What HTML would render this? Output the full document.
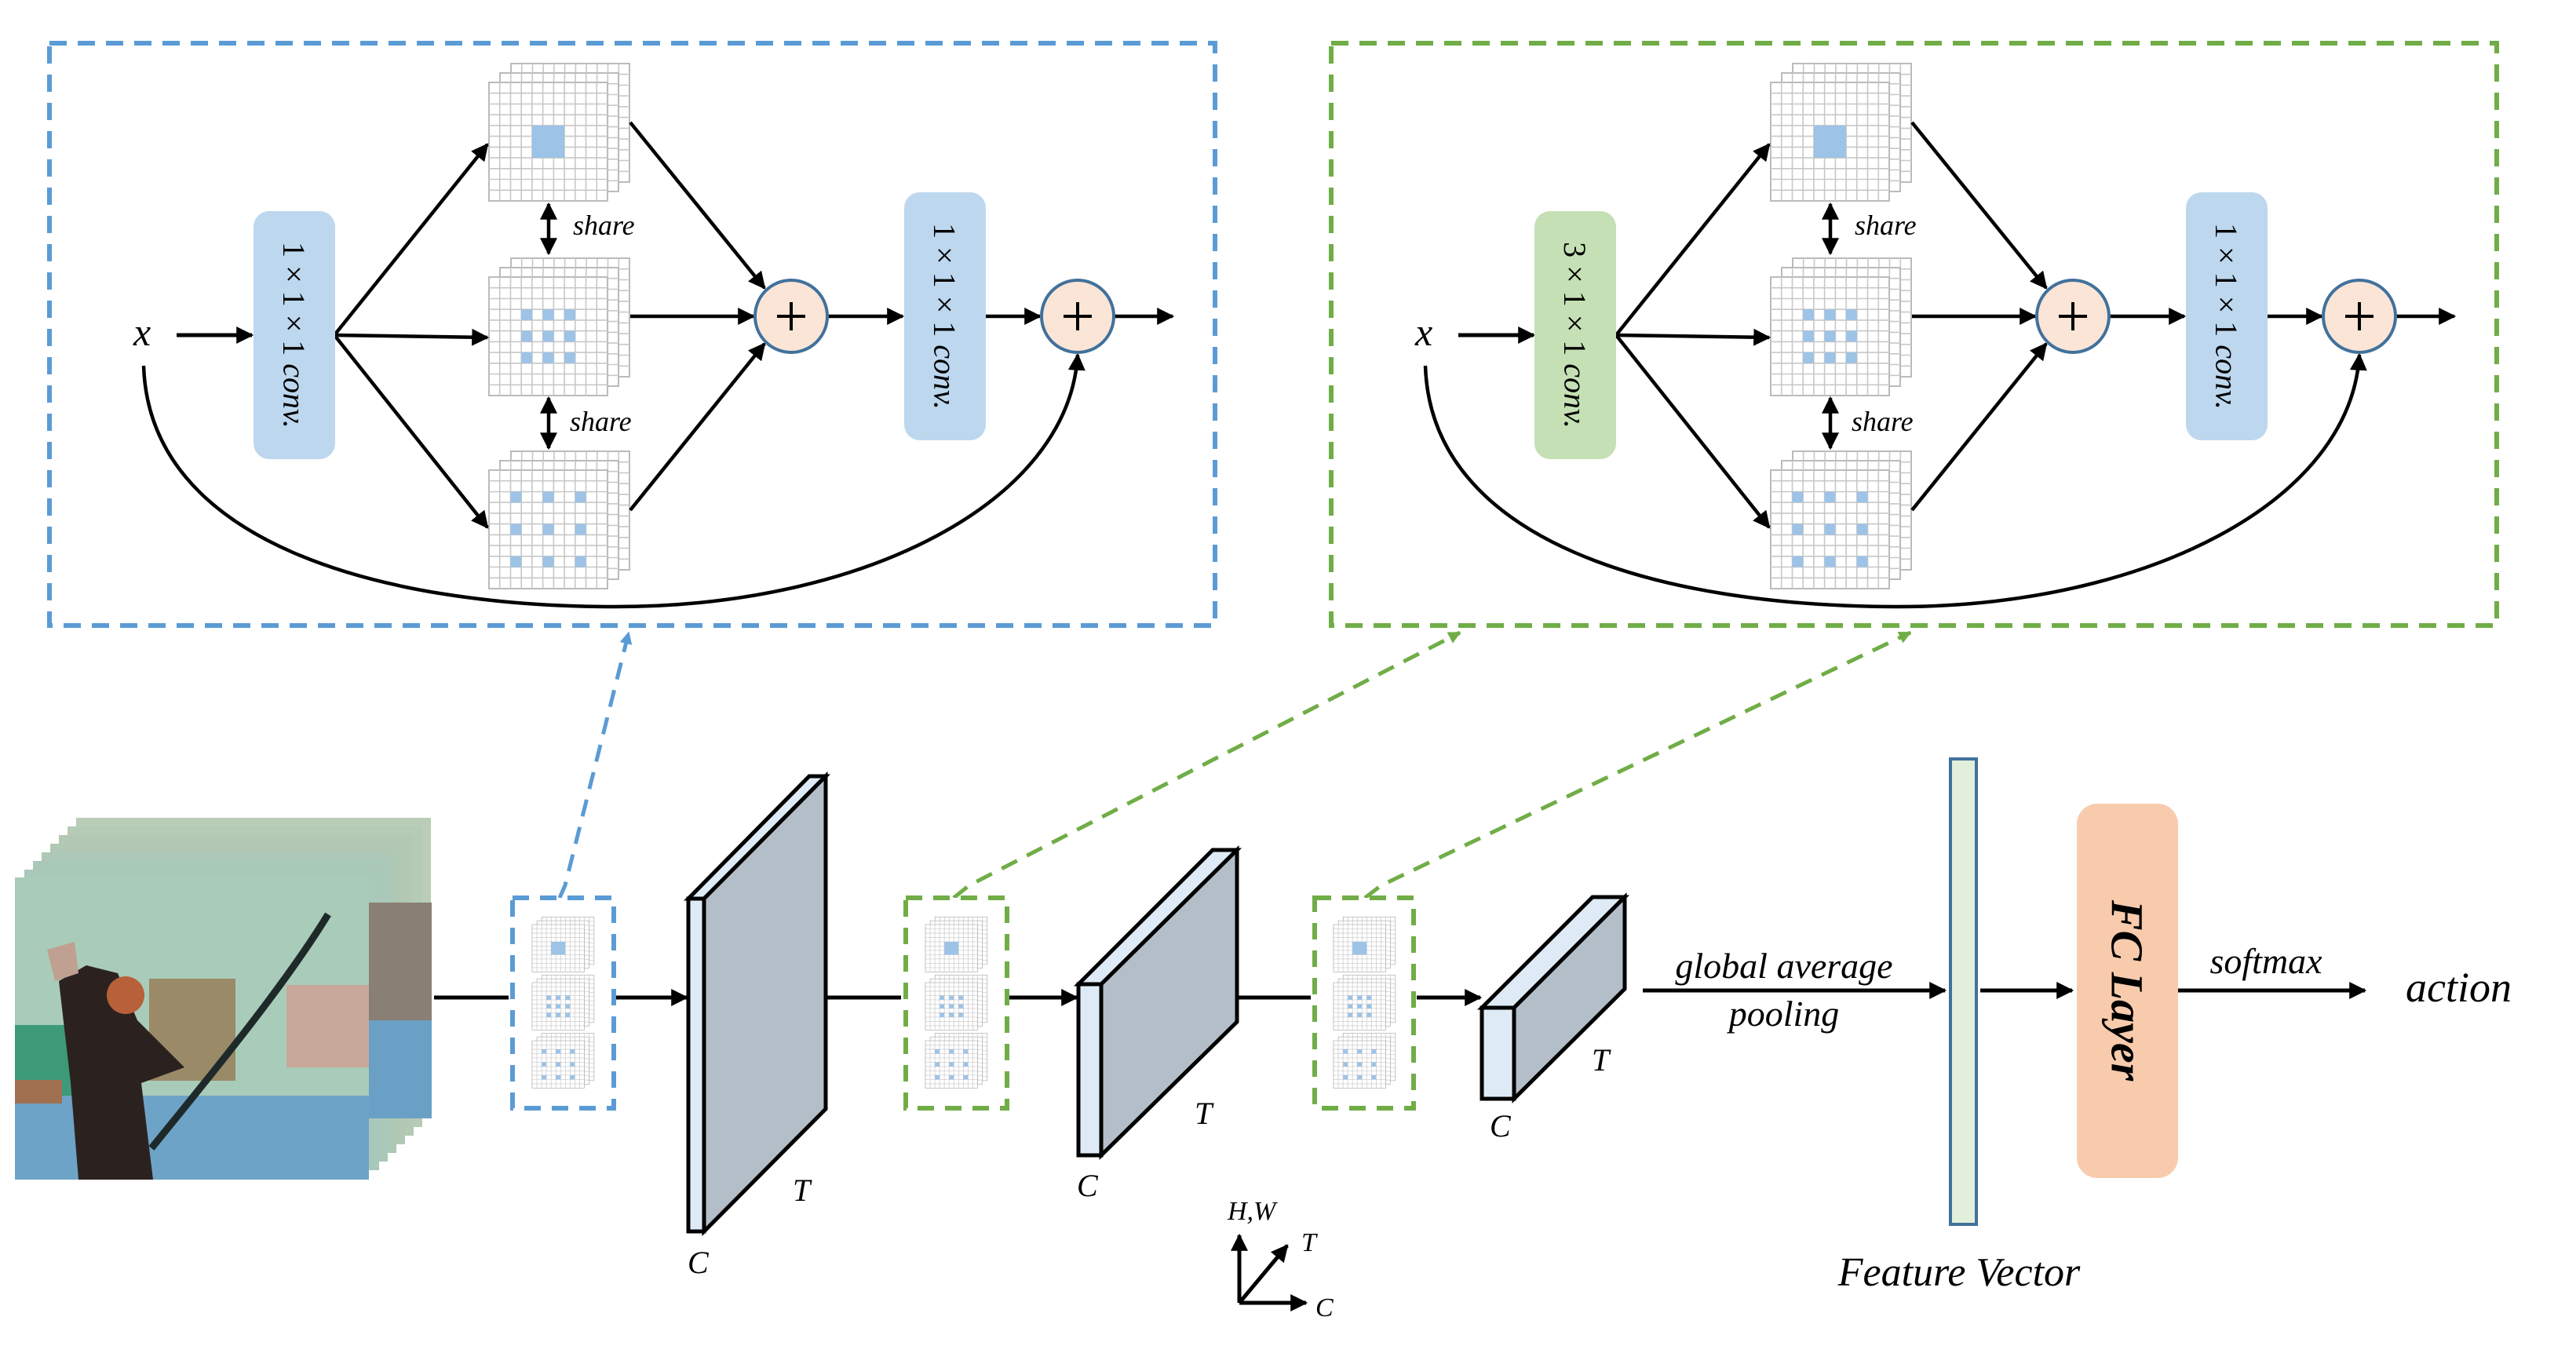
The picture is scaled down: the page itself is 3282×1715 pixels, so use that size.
<!DOCTYPE html>
<html><head><meta charset="utf-8"><style>
html,body{margin:0;padding:0;background:#fff}
svg{display:block}
text{font-family:"Liberation Serif",serif;font-style:italic;fill:#000}
</style></head><body>
<svg width="3282" height="1715" viewBox="0 0 3282 1715" xmlns="http://www.w3.org/2000/svg">
<defs>
<marker id="ah" viewBox="0 0 10 10" refX="9" refY="5" markerWidth="22" markerHeight="22" markerUnits="userSpaceOnUse" orient="auto-start-reverse"><path d="M0,0 L10,5 L0,10 z" fill="#000"/></marker>
<marker id="ahb" viewBox="0 0 10 10" refX="9" refY="5" markerWidth="16" markerHeight="16" markerUnits="userSpaceOnUse" orient="auto"><path d="M0,0 L10,5 L0,10 z" fill="#5b9bd5"/></marker>
<marker id="ahg" viewBox="0 0 10 10" refX="9" refY="5" markerWidth="16" markerHeight="16" markerUnits="userSpaceOnUse" orient="auto"><path d="M0,0 L10,5 L0,10 z" fill="#70ad47"/></marker>
<g id="grid">
<rect x="0" y="0" width="151" height="151" fill="#fff" stroke="#bbb" stroke-width="2"/>
<path d="M13.7,0V151M27.5,0V151M41.2,0V151M54.9,0V151M68.6,0V151M82.4,0V151M96.1,0V151M109.8,0V151M123.5,0V151M137.3,0V151M0,13.7H151M0,27.5H151M0,41.2H151M0,54.9H151M0,68.6H151M0,82.4H151M0,96.1H151M0,109.8H151M0,123.5H151M0,137.3H151" stroke="#c8c8c8" stroke-width="1.6" fill="none"/>
</g>
<g id="stack">
<use href="#grid" x="28" y="-24"/>
<use href="#grid" x="14" y="-12"/>
<use href="#grid" x="0" y="0"/>
</g>
<g id="s1"><use href="#stack"/><rect x="55" y="55" width="41" height="41" fill="#9dc3e6"/></g>
<g id="s2"><use href="#stack"/>
<g fill="#9dc3e6"><rect x="41.2" y="41.2" width="13.7" height="13.7"/><rect x="68.6" y="41.2" width="13.7" height="13.7"/><rect x="96.1" y="41.2" width="13.7" height="13.7"/>
<rect x="41.2" y="68.6" width="13.7" height="13.7"/><rect x="68.6" y="68.6" width="13.7" height="13.7"/><rect x="96.1" y="68.6" width="13.7" height="13.7"/>
<rect x="41.2" y="96.1" width="13.7" height="13.7"/><rect x="68.6" y="96.1" width="13.7" height="13.7"/><rect x="96.1" y="96.1" width="13.7" height="13.7"/></g></g>
<g id="s3"><use href="#stack"/>
<g fill="#9dc3e6"><rect x="27.5" y="27.5" width="13.7" height="13.7"/><rect x="68.6" y="27.5" width="13.7" height="13.7"/><rect x="109.8" y="27.5" width="13.7" height="13.7"/>
<rect x="27.5" y="68.6" width="13.7" height="13.7"/><rect x="68.6" y="68.6" width="13.7" height="13.7"/><rect x="109.8" y="68.6" width="13.7" height="13.7"/>
<rect x="27.5" y="109.8" width="13.7" height="13.7"/><rect x="68.6" y="109.8" width="13.7" height="13.7"/><rect x="109.8" y="109.8" width="13.7" height="13.7"/></g></g>
<g id="mod">
<text x="170" y="440" font-size="50">x</text>
<line x1="225" y1="427" x2="321" y2="427" stroke="#000" stroke-width="5" marker-end="url(#ah)"/>
<use href="#s1" x="623" y="105"/>
<use href="#s2" x="623" y="353"/>
<use href="#s3" x="623" y="599"/>
<g stroke="#000" stroke-width="4.5" fill="none">
<line x1="426" y1="427" x2="621" y2="184" marker-end="url(#ah)"/>
<line x1="426" y1="427" x2="621" y2="430" marker-end="url(#ah)"/>
<line x1="426" y1="427" x2="621" y2="672" marker-end="url(#ah)"/>
<line x1="803" y1="156" x2="974" y2="367" marker-end="url(#ah)"/>
<line x1="803" y1="403" x2="960" y2="403" marker-end="url(#ah)"/>
<line x1="803" y1="650" x2="974" y2="438" marker-end="url(#ah)"/>
<line x1="1055" y1="403" x2="1150" y2="403" marker-end="url(#ah)"/>
<line x1="1254" y1="403" x2="1325" y2="403" marker-end="url(#ah)"/>
<line x1="1420" y1="403" x2="1494" y2="403" marker-end="url(#ah)"/>
<line x1="699" y1="260" x2="699" y2="323" marker-start="url(#ah)" marker-end="url(#ah)"/>
<line x1="699" y1="507" x2="699" y2="571" marker-start="url(#ah)" marker-end="url(#ah)"/>
<path d="M183,466 C190,690 480,773 785,773 C1100,773 1362,640 1373,452" marker-end="url(#ah)"/>
</g>
<text x="730" y="299" font-size="36">share</text>
<text x="726" y="549" font-size="36">share</text>
<circle cx="1008" cy="403" r="46" fill="#fbe5d6" stroke="#41719c" stroke-width="4"/>
<path d="M990,403H1026M1008,385V421" stroke="#000" stroke-width="4"/>
<circle cx="1373" cy="403" r="46" fill="#fbe5d6" stroke="#41719c" stroke-width="4"/>
<path d="M1355,403H1391M1373,385V421" stroke="#000" stroke-width="4"/>
<rect x="1152" y="245" width="104" height="316" rx="20" fill="#bdd7ee"/>
<text transform="translate(1204,403) rotate(90)" text-anchor="middle" dominant-baseline="central" font-size="40"><tspan font-style="normal">1 × 1 × 1</tspan>  conv.</text>
</g>
</defs>

<rect x="63" y="55" width="1485" height="742" fill="none" stroke="#5b9bd5" stroke-width="6" stroke-dasharray="22,14"/>
<use href="#mod"/>
<rect x="323" y="269" width="104" height="316" rx="20" fill="#bdd7ee"/>
<text transform="translate(375,427) rotate(90)" text-anchor="middle" dominant-baseline="central" font-size="40"><tspan font-style="normal">1 × 1 × 1</tspan>  conv.</text>

<rect x="1696" y="55" width="1485" height="742" fill="none" stroke="#70ad47" stroke-width="6" stroke-dasharray="22,14"/>
<use href="#mod" x="1633"/>
<rect x="1955" y="269" width="104" height="316" rx="20" fill="#c5e0b4"/>
<text transform="translate(2007,427) rotate(90)" text-anchor="middle" dominant-baseline="central" font-size="40"><tspan font-style="normal">3 × 1 × 1</tspan>  conv.</text>

<path d="M713,1144 L720,1128 L801,806" fill="none" stroke="#5b9bd5" stroke-width="5" stroke-dasharray="22,14" marker-end="url(#ahb)"/>
<path d="M1215,1144 L1235,1128 L1860,806" fill="none" stroke="#70ad47" stroke-width="5" stroke-dasharray="22,14" marker-end="url(#ahg)"/>
<path d="M1739,1144 L1760,1128 L2434,806" fill="none" stroke="#70ad47" stroke-width="5" stroke-dasharray="22,14" marker-end="url(#ahg)"/>

<g>
<rect x="97" y="1042" width="452" height="383" fill="#b9cdb7"/>
<rect x="86" y="1053" width="452" height="383" fill="#b6cbb5"/>
<rect x="75" y="1064" width="452" height="383" fill="#b3c9b4"/>
<rect x="64" y="1075" width="452" height="383" fill="#b0c8b4"/>
<rect x="53" y="1086" width="452" height="383" fill="#adc8b6"/>
<rect x="42" y="1097" width="452" height="383" fill="#aac8b8"/>
<rect x="31" y="1108" width="452" height="383" fill="#a8c8b9"/>
<rect x="470" y="1150" width="80" height="275" fill="#8a7f74"/>
<rect x="470" y="1300" width="80" height="125" fill="#6aa0c6"/>
<rect x="19" y="1118" width="451" height="385" fill="#a9cbb9"/>
<rect x="19" y="1306" width="120" height="90" fill="#3d9a78"/>
<rect x="190" y="1247" width="110" height="130" fill="#9a8a68"/>
<rect x="365" y="1255" width="105" height="105" fill="#c7a89a"/>
<rect x="19" y="1396" width="451" height="107" fill="#6ea3c8"/>
<rect x="19" y="1376" width="60" height="30" fill="#a07050"/>
<path d="M75,1250 L110,1230 L150,1240 L175,1300 L235,1360 L180,1380 L195,1503 L100,1503 L90,1380 Z" fill="#2b2220"/>
<circle cx="160" cy="1268" r="24" fill="#b8603a"/>
<path d="M418,1165 C360,1260 260,1380 193,1463" stroke="#1e2a2a" stroke-width="9" fill="none"/>
<path d="M60,1210 L95,1200 L100,1240 L70,1250 Z" fill="#c0a090"/>
</g>

<g stroke="#000" stroke-width="5" fill="none">
<line x1="553" y1="1271" x2="648" y2="1271"/>
<line x1="785" y1="1271" x2="875" y2="1271" marker-end="url(#ah)"/>
<line x1="1052" y1="1271" x2="1148" y2="1271"/>
<line x1="1282" y1="1271" x2="1372" y2="1271" marker-end="url(#ah)"/>
<line x1="1576" y1="1271" x2="1670" y2="1271"/>
<line x1="1805" y1="1271" x2="1886" y2="1271" marker-end="url(#ah)"/>
<line x1="2093" y1="1262" x2="2478" y2="1262" marker-end="url(#ah)"/>
<line x1="2523" y1="1262" x2="2640" y2="1262" marker-end="url(#ah)"/>
<line x1="2775" y1="1262" x2="3013" y2="1262" marker-end="url(#ah)"/>
</g>

<rect x="653" y="1144" width="129" height="268" fill="#fff" stroke="#5b9bd5" stroke-width="6" stroke-dasharray="21,14"/>
<rect x="1154" y="1144" width="129" height="268" fill="#fff" stroke="#70ad47" stroke-width="6" stroke-dasharray="21,14"/>
<rect x="1675" y="1144" width="126" height="268" fill="#fff" stroke="#70ad47" stroke-width="6" stroke-dasharray="21,14"/>
<g transform="translate(678,1178) scale(0.44,0.40)"><use href="#s1"/></g>
<g transform="translate(678,1252) scale(0.44,0.40)"><use href="#s2"/></g>
<g transform="translate(678,1326) scale(0.44,0.40)"><use href="#s3"/></g>
<g transform="translate(1179,1178) scale(0.44,0.40)"><use href="#s1"/></g>
<g transform="translate(1179,1252) scale(0.44,0.40)"><use href="#s2"/></g>
<g transform="translate(1179,1326) scale(0.44,0.40)"><use href="#s3"/></g>
<g transform="translate(1699,1178) scale(0.44,0.40)"><use href="#s1"/></g>
<g transform="translate(1699,1252) scale(0.44,0.40)"><use href="#s2"/></g>
<g transform="translate(1699,1326) scale(0.44,0.40)"><use href="#s3"/></g>

<g stroke="#000" stroke-width="5" stroke-linejoin="miter">
<polygon points="877,1145 897,1145 1052,989 1031,989" fill="#deebf7"/>
<polygon points="897,1145 1052,989 1052,1413 897,1569" fill="#b4bec9"/>
<rect x="877" y="1145" width="20" height="424" fill="#deebf7"/>
<polygon points="1374,1254 1403,1254 1576,1083 1545,1083" fill="#deebf7"/>
<polygon points="1403,1254 1576,1083 1576,1302 1403,1472" fill="#b4bec9"/>
<rect x="1374" y="1254" width="29" height="218" fill="#deebf7"/>
<polygon points="1888,1284 1929,1284 2070,1143 2029,1143" fill="#deebf7"/>
<polygon points="1929,1284 2070,1143 2070,1260 1929,1400" fill="#b4bec9"/>
<rect x="1888" y="1284" width="41" height="116" fill="#deebf7"/>
</g>
<text x="1010" y="1530" font-size="40">T</text>
<text x="876" y="1622" font-size="40">C</text>
<text x="1522" y="1432" font-size="40">T</text>
<text x="1372" y="1524" font-size="40">C</text>
<text x="2028" y="1364" font-size="40">T</text>
<text x="1898" y="1448" font-size="40">C</text>

<text x="2273" y="1246" font-size="46" text-anchor="middle">global average</text>
<text x="2273" y="1307" font-size="46" text-anchor="middle">pooling</text>
<rect x="2485" y="967" width="33" height="593" fill="#e2efda" stroke="#41719c" stroke-width="4"/>
<rect x="2646" y="1024" width="129" height="477" rx="26" fill="#f8cbad"/>
<text transform="translate(2710,1262) rotate(90)" text-anchor="middle" dominant-baseline="central" font-size="58" font-weight="bold">FC  Layer</text>
<text x="2887" y="1240" font-size="46" text-anchor="middle">softmax</text>
<text x="3065" y="1276" font-size="54">action</text>
<text x="2496" y="1638" font-size="52" text-anchor="middle">Feature Vector</text>

<g stroke="#000" stroke-width="5" fill="none">
<line x1="1579" y1="1660" x2="1579" y2="1574" marker-end="url(#ah)"/>
<line x1="1579" y1="1660" x2="1664" y2="1660" marker-end="url(#ah)"/>
<line x1="1579" y1="1660" x2="1640" y2="1587" marker-end="url(#ah)"/>
</g>
<text x="1564" y="1554" font-size="34">H,W</text>
<text x="1658" y="1594" font-size="34">T</text>
<text x="1676" y="1677" font-size="34">C</text>
</svg>
</body></html>
